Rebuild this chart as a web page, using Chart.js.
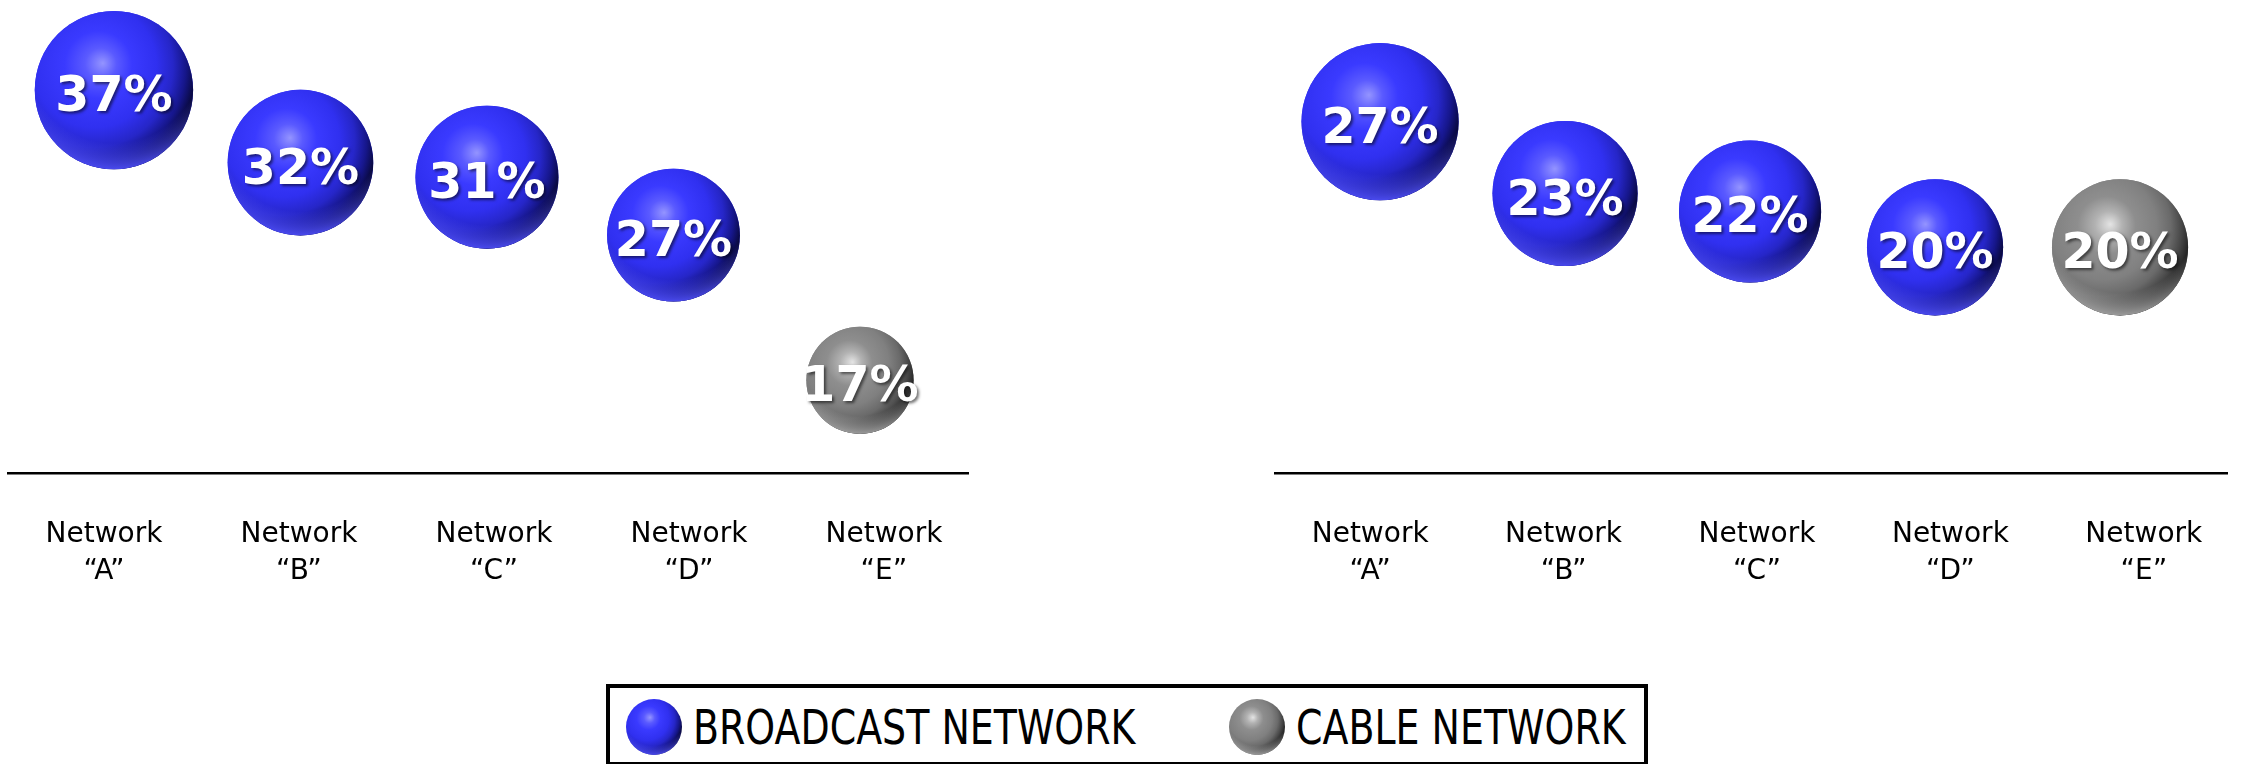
<!DOCTYPE html>
<html>
<head>
<meta charset="utf-8">
<title>Network share</title>
<script src="https://cdn.jsdelivr.net/npm/chart.js@4.4.1/dist/chart.umd.min.js"></script>
<style>
    html, body { margin: 0; padding: 0; background: #fff; }
    body { width: 2247px; height: 764px; position: relative; overflow: hidden; }
    canvas.panel { position: absolute; top: 0; }
    #left-chart { left: 0; }
    #right-chart { left: 1267px; }
    #legend {
        position: absolute; left: 606px; top: 684px; width: 1042px; height: 80px;
        box-sizing: border-box; border: 4px solid #000; border-bottom-width: 2px;
    }
    .legend-item { position: absolute; top: 0; height: 72px; }
    .legend-item canvas { position: absolute; left: 0; top: 9px; }
    .legend-item span {
        position: absolute; left: 69px; top: 15px; white-space: nowrap;
        font-family: "DejaVu Sans", sans-serif; font-size: 48px; line-height: 48px; color: #000;
        transform: scaleX(0.79); transform-origin: left center;
    }
</style>
</head>
<body>
<canvas id="left-chart" class="panel" width="1000" height="603"></canvas>
<canvas id="right-chart" class="panel" width="980" height="603"></canvas>
<div id="legend"></div>

<script>
const networks = ['Network “A”', 'Network “B”', 'Network “C”', 'Network “D”', 'Network “E”'];
const networkType = ['broadcast', 'broadcast', 'broadcast', 'broadcast', 'cable'];
const leftShare = [37, 32, 31, 27, 17];
const rightShare = [27, 23, 22, 20, 20];
const seriesTypes = ['broadcast', 'cable'];
const seriesNames = ['BROADCAST NETWORK', 'CABLE NETWORK'];

const palettes = {
    broadcast: {
        base: '#3232f0',
        stops: [[0, '#9494ff'], [0.14, '#5a5aff'], [0.3, '#3a3aff'], [0.55, '#3030f0'],
                [0.72, '#2626c8'], [0.85, '#16168a'], [0.95, '#0a0a44'], [1, '#050520']],
        rim: 'rgba(80,80,255,0.9)', rimClear: 'rgba(80,80,255,0)'
    },
    cable: {
        base: '#7e7e7e',
        stops: [[0, '#e4e4e4'], [0.14, '#b2b2b2'], [0.3, '#8e8e8e'], [0.55, '#808080'],
                [0.72, '#6a6a6a'], [0.85, '#474747'], [0.95, '#262626'], [1, '#141414']],
        rim: 'rgba(175,175,175,0.85)', rimClear: 'rgba(175,175,175,0)'
    }
};

function drawSphere(ctx, x, y, r, p) {
    ctx.save();
    ctx.beginPath();
    ctx.arc(x, y, r, 0, Math.PI * 2);
    ctx.closePath();
    const g = ctx.createRadialGradient(x - 0.14 * r, y - 0.34 * r, 0, x - 0.33 * r, y - 0.28 * r, 1.42 * r);
    p.stops.forEach(([t, c]) => g.addColorStop(t, c));
    ctx.fillStyle = g;
    ctx.fill();
    ctx.clip();
    // lighter rim along the bottom edge
    const rim = ctx.createRadialGradient(x, y - 0.45 * r, 1.12 * r, x, y - 0.45 * r, 1.45 * r);
    rim.addColorStop(0, p.rimClear);
    rim.addColorStop(1, p.rim);
    ctx.fillStyle = rim;
    ctx.fillRect(x - r, y - r, 2 * r, 2 * r);
    ctx.restore();
}

const sphereShade = {
    id: 'sphereShade',
    afterDatasetDraw(chart, args) {
        const ds = chart.data.datasets[args.index];
        args.meta.data.forEach(el => {
            drawSphere(chart.ctx, el.x, el.y, el.options.radius, palettes[ds.kind]);
        });
    }
};

const percentLabels = {
    id: 'percentLabels',
    afterDatasetsDraw(chart) {
        const ctx = chart.ctx;
        ctx.save();
        ctx.font = 'bold 49px "DejaVu Sans"';
        ctx.textAlign = 'center';
        ctx.textBaseline = 'alphabetic';
        ctx.fillStyle = '#fff';
        ctx.shadowColor = 'rgba(0,0,0,0.55)';
        ctx.shadowOffsetX = 2;
        ctx.shadowOffsetY = 2;
        ctx.shadowBlur = 3;
        chart.data.datasets.forEach((ds, di) => {
            chart.getDatasetMeta(di).data.forEach((el, i) => {
                ctx.fillText(ds.data[i].y + '%', el.x, el.y + 21);
            });
        });
        ctx.restore();
    }
};

function buildDatasets(values, radiusFor) {
    return seriesTypes.map((type, k) => ({
        label: seriesNames[k],
        kind: type,
        data: values.map((v, i) => ({ x: i, y: v })).filter((_, i) => networkType[i] === type),
        backgroundColor: palettes[type].base,
        borderWidth: 0,
        radius: ctx => radiusFor(ctx.raw.y),
        hoverRadius: 0,
        clip: false
    }));
}

function makePanel(id, values, yMin, yMax, radiusFor, padRight) {
    return new Chart(document.getElementById(id), {
        type: 'bubble',
        data: { datasets: buildDatasets(values, radiusFor) },
        options: {
            responsive: false,
            animation: false,
            events: [],
            layout: { padding: { left: 8, right: padRight, top: 0, bottom: 0 }, autoPadding: false },
            plugins: { legend: { display: false }, tooltip: { enabled: false } },
            scales: {
                x: { type: 'linear', display: false, min: -0.568, max: 4.579 },
                y: { type: 'linear', display: false, min: yMin, max: yMax },
                names: {
                    type: 'linear',
                    position: 'bottom',
                    min: -0.492,
                    max: 4.431,
                    grid: { display: false, drawTicks: false },
                    border: { display: true, color: '#000', width: 2.5 },
                    afterBuildTicks: s => { s.ticks = networks.map((_, i) => ({ value: i })); },
                    afterFit: s => { s.height = 130; },
                    ticks: {
                        autoSkip: false,
                        maxRotation: 0,
                        padding: 43,
                        color: '#000',
                        font: { family: 'DejaVu Sans', size: 28, lineHeight: 1.32 },
                        callback: v => {
                            const n = networks[v];
                            const cut = n.indexOf(' ');
                            return [n.slice(0, cut), n.slice(cut + 1)];
                        }
                    }
                }
            }
        },
        plugins: [sphereShade, percentLabels]
    });
}

makePanel('left-chart', leftShare, 10.61, 43.21, v => 68.7 + 1.278 * (v - 28.8), 32);
makePanel('right-chart', rightShare, 7.43, 33.78, v => 71.66 + 1.505 * (v - 22.4), 12);

// shared legend below both panels
const legend = document.getElementById('legend');
const itemLeft = [14, 617];
seriesTypes.forEach((type, k) => {
    const item = document.createElement('div');
    item.className = 'legend-item';
    item.style.left = itemLeft[k] + 'px';
    const icon = document.createElement('canvas');
    icon.width = 60;
    icon.height = 60;
    drawSphere(icon.getContext('2d'), 30, 30, 28, palettes[type]);
    const text = document.createElement('span');
    text.textContent = seriesNames[k];
    item.appendChild(icon);
    item.appendChild(text);
    legend.appendChild(item);
});
</script>
</body>
</html>
